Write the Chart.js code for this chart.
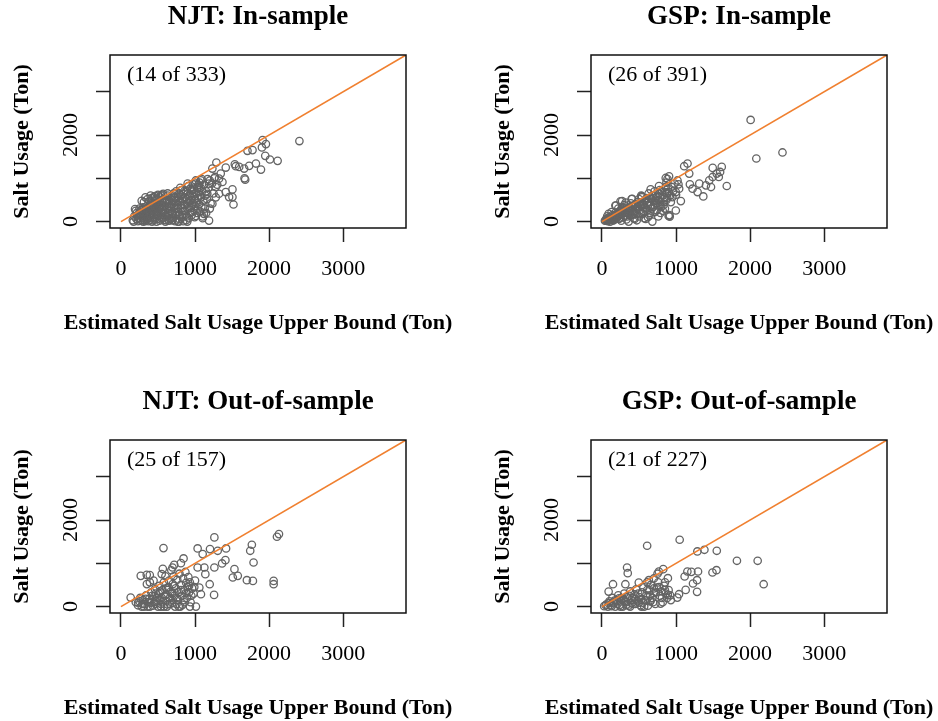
<!DOCTYPE html>
<html>
<head>
<meta charset="utf-8">
<title>Salt usage vs estimated upper bound</title>
<script src="https://cdn.jsdelivr.net/npm/chart.js@4/dist/chart.umd.min.js"></script>
<style>
  html, body { margin: 0; padding: 0; background: #fff; overflow: hidden; }
  body { width: 938px; height: 721px; position: relative; }
  .panel { position: absolute; width: 481px; height: 385px; }
</style>
</head>
<body>
<div class="panel" style="left:0px;top:0px"><canvas id="c0" width="481" height="385"></canvas></div>
<div class="panel" style="left:481px;top:0px"><canvas id="c1" width="481" height="385"></canvas></div>
<div class="panel" style="left:0px;top:385px"><canvas id="c2" width="481" height="385"></canvas></div>
<div class="panel" style="left:481px;top:385px"><canvas id="c3" width="481" height="385"></canvas></div>
<script>
// axis settings (same for all four panels)
const axisMin = -148;
const axisMax = 3848;
const xTicks = [0, 1000, 2000, 3000];
const yTicks = [0, 1000, 2000, 3000];
const yTicksLabelled = [0, 2000];
const diagonal = [0, 3848];

// panel titles and notes
const titles = ["NJT: In-sample", "GSP: In-sample", "NJT: Out-of-sample", "GSP: Out-of-sample"];
const notes = ["(14 of 333)", "(26 of 391)", "(25 of 157)", "(21 of 227)"];
const notePos = [750, 3390];
const xTitle = "Estimated Salt Usage Upper Bound (Ton)";
const yTitle = "Salt Usage (Ton)";

// [estimated upper bound, salt usage]
const njtIn = [
  [160,30],[180,120],[200,250],[210,60],[230,10],[240,180],[250,300],[190,290],[220,140],[170,0],[245,80],
  [260,20],[270,150],[280,260],[290,90],[300,330],[310,40],[320,200],[330,280],[340,120],[300,0],[350,60],[280,480],[330,560],[345,220],
  [360,300],[370,10],[380,170],[390,380],[400,90],[410,250],[420,420],[430,30],[440,330],[450,160],[400,600],[440,560],[380,470],[420,0],[455,280],
  [460,70],[470,400],[480,220],[490,500],[500,130],[510,320],[520,20],[530,450],[540,260],[550,80],[500,620],[480,0],[545,380],[520,560],
  [560,350],[570,160],[580,520],[590,40],[600,280],[610,430],[620,100],[630,600],[640,200],[650,360],[600,0],[560,620],[620,500],[650,20],
  [660,250],[670,540],[680,80],[690,400],[700,180],[710,650],[720,300],[730,10],[740,480],[750,140],[700,600],[690,30],[745,700],[720,560],
  [760,380],[770,580],[780,220],[790,60],[800,470],[810,720],[820,300],[830,150],[840,640],[850,400],[800,780],[770,0],[840,10],[820,520],
  [860,250],[870,560],[880,700],[890,120],[900,420],[910,820],[920,330],[930,600],[940,200],[950,500],[900,880],[880,30],[950,720],
  [960,380],[970,860],[980,640],[990,250],[1000,520],[1010,950],[1020,420],[1030,780],[1040,300],[1050,680],[1060,900],[1080,560],[1090,980],[1100,120],[1070,230],[1010,130],
  [215,200],[235,90],[255,150],[265,260],[275,40],[295,210],[305,120],[315,300],[325,10],[335,170],[355,250],[365,80],[375,340],[385,30],
  [395,200],[405,140],[415,360],[425,280],[435,100],[445,220],[465,310],[475,170],[485,60],[495,380],[505,250],[515,150],[525,330],[535,50],
  [545,200],[555,460],[565,280],[575,90],[585,350],[595,200],[605,480],[615,30],[625,320],[635,420],[645,140],[655,480],[665,60],[675,330],
  [685,200],[695,500],[705,90],[715,380],[725,200],[735,560],[745,300],[755,50],[765,480],[775,300],[785,650],[795,150],[805,380],[815,600],
  [825,100],[835,480],[845,240],[855,700],[865,380],[875,160],[885,520],[895,300],[905,650],[915,80],[925,480],[935,760],[945,350],[955,150],
  [965,580],[975,420],[985,760],[995,100],[1005,350],[1015,650],[1025,200],[1035,540],[1045,850],[1055,400],[1065,600],[1075,780],[1085,350],
  [1095,700],[1110,480],[1120,850],[1130,300],[1140,600],[1150,700],[1120,180],
  [310,450],[360,520],[410,540],[460,590],[510,600],[570,640],[630,650],[470,520],[540,600],
  [1160,520],[1180,780],[1200,950],[1210,420],[1230,880],[1250,650],[1260,1000],[1280,560],[1300,850],[1200,300],[1150,200],[1170,980],
  [2409,1860],[1912,1883],[1957,1790],[1903,1713],[1708,1635],[1776,1651],[2115,1403],[2011,1434],[1948,1519],[1890,1201],
  [1822,1341],[1731,1287],[1663,1225],[1550,1279],[1596,1263],[1537,1325],[1668,1000],[1677,969],[1505,744],[1505,566],
  [1519,395],[1288,1364],[1234,1225],[1415,1248],[1347,1108],[1324,992],[1270,1031],[1370,915],[1189,876],[1415,682],
  [1324,643],[1460,566],[1234,411],[1189,23],[1103,78],[895,0],[782,0],[1279,798],[1166,643],[1076,953],[1053,798],[1008,876],[963,721]
];

const gspIn = [
  [40,20],[60,60],[80,10],[100,100],[120,40],[140,150],[70,120],[110,0],[150,80],[90,180],[130,220],
  [160,30],[180,200],[200,90],[220,300],[240,150],[260,20],[280,250],[300,380],[170,130],[230,60],[270,330],[290,100],[190,370],[250,470],
  [310,200],[330,50],[350,300],[370,150],[390,420],[410,250],[430,80],[450,350],[320,440],[360,0],[400,520],[440,180],[380,240],
  [460,280],[480,450],[500,120],[520,380],[540,560],[560,220],[580,480],[600,300],[470,30],[530,600],[590,60],[550,400],[500,520],
  [610,430],[630,650],[650,200],[670,520],[690,340],[710,700],[730,420],[750,600],[620,100],[680,0],[740,260],[700,480],[660,380],
  [760,500],[780,730],[800,340],[820,620],[840,450],[860,800],[880,550],[900,130],[790,200],[850,300],[900,680],[870,900],[910,150],
  [50,40],[70,30],[90,70],[110,90],[130,60],[150,130],[170,80],[190,150],[210,120],[230,200],[250,90],[270,180],[290,250],[310,140],
  [330,270],[350,190],[370,320],[390,140],[410,340],[430,230],[450,400],[470,180],[490,330],[510,260],[530,440],[550,180],[570,380],
  [590,500],[610,250],[630,450],[650,550],[670,300],[690,600],[710,380],[730,560],[750,420],[770,640],[790,460],[810,700],[830,380],
  [850,680],[870,500],[890,760],[920,600],[940,800],[960,700],[980,880],[1000,620],[1020,950],[930,450],[820,250],[760,120],[710,220],
  [640,140],[570,80],[520,200],[470,320],[420,160],[360,250],[300,210],[240,240],[200,170],[150,30],[120,110],[100,40],[80,80],[60,20],
  [180,60],[260,280],[340,120],[440,60],[560,320],[620,380],[720,480],[780,380],[840,560],[880,650],[600,540],[500,420],[400,360],[330,320],[260,200],
  [181,372],[272,473],[408,527],[535,581],[657,744],[770,822],[861,1008],
  [2007,2348],[2084,1457],[2437,1597],[1685,822],[1617,1263],[1595,1147],[1495,1240],[1577,1031],[1549,1108],[1495,1031],
  [1449,953],[1472,798],[1404,837],[1368,581],[1314,876],[1223,760],[1291,682],[1187,860],[1155,1341],[1110,1279],
  [1178,1108],[1065,473],[997,256],[915,116],[906,1046],[884,984],[1033,860],[997,682],[951,566],[1042,760]
];

const njtOut = [
  [200,100],[230,30],[260,200],[280,0],[300,150],[320,60],[340,260],[360,0],[380,180],[400,90],[410,330],[430,20],
  [450,240],[460,400],[480,120],[500,0],[510,300],[520,480],[540,60],[550,200],[560,380],[580,560],[600,130],[610,280],
  [620,0],[640,450],[650,600],[660,200],[670,340],[690,80],[700,520],[710,700],[720,250],[730,0],[740,420],[760,620],
  [770,150],[780,330],[790,760],[800,0],[810,500],[820,250],[840,650],[850,380],[860,100],[870,800],[880,550],[890,200],
  [900,450],[910,680],[920,330],[930,560],[940,100],[960,420],[980,300],[1000,600],[350,520],[390,560],[440,600],[600,700],
  [680,840],[550,750],[470,300],[530,150],[630,50],[750,60],[830,40],[580,0],
  [250,120],[290,60],[330,180],[370,100],[420,250],[470,60],[490,200],[530,350],[570,120],[590,250],[630,380],[660,60],
  [690,300],[720,480],[750,200],[780,0],[810,380],[850,150],[880,320],[920,480],[950,250],[990,450],[700,150],[610,420],
  [540,0],[450,100],[390,0],[310,0],
  [2133,1675],[2106,1613],[2061,594],[2061,517],[1767,1428],[1745,1289],[1790,1019],[1781,594],[1700,610],[1577,710],
  [1510,672],[1532,865],[1419,1343],[1410,1073],[1365,996],[1306,1289],[1261,1598],[1202,1328],[1261,903],[1198,517],
  [1257,270],[1103,1212],[1035,1343],[1126,903],[1139,749],[1058,440],[1080,286],[1035,903],[1012,0],[931,0],
  [845,1112],[809,1003],[719,965],[696,903],[574,1351],[565,872],[389,726],[267,710],[348,733],[131,208],[231,93]
];

const gspOut = [
  [30,10],[60,50],[80,0],[100,120],[120,30],[140,200],[160,80],[180,0],[200,150],[220,260],[240,40],[260,190],[280,0],
  [300,300],[320,100],[340,220],[360,20],[380,350],[400,150],[420,60],[440,280],[460,400],[480,120],[500,220],[520,30],
  [540,330],[560,450],[580,150],[600,260],[620,20],[640,380],[660,500],[680,200],[700,310],[720,60],[740,440],[760,560],
  [780,250],[800,350],[820,100],[840,480],[860,300],[880,200],[900,380],[920,260],[700,650],[750,760],[850,560],[610,560],
  [450,180],[550,90],[650,120],[380,0],[250,120],
  [50,30],[90,80],[130,10],[170,140],[210,60],[250,0],[290,180],[330,40],[370,250],[410,200],[450,60],[490,300],[530,160],
  [570,0],[610,380],[650,260],[690,100],[730,330],[770,450],[810,200],[850,380],[890,270],[930,150],[700,420],[600,140],
  [500,90],[400,80],[310,130],[230,190],[150,100],
  [1049,1544],[610,1405],[1288,1274],[1383,1312],[1550,1289],[1822,1058],[2102,1058],[2183,517],[1546,841],[1492,787],
  [1297,811],[1207,803],[1153,811],[1116,695],[1229,533],[1284,610],[1284,340],[1130,386],[1040,286],[1017,208],
  [890,656],[827,865],[768,811],[339,903],[348,772],[633,610],[497,556],[316,517],[149,517],[90,347],[791,69],[533,0],[655,131]
];

const panelData = [njtIn, gspIn, njtOut, gspOut];

Chart.defaults.font.family = "'Liberation Serif', 'Times New Roman', serif";
Chart.defaults.font.size = 22;
Chart.defaults.color = "#000";

// full box round the plot region, like R's box()
const boxPlugin = {
  id: "box",
  afterDraw(chart) {
    const a = chart.chartArea;
    const ctx = chart.ctx;
    ctx.save();
    ctx.strokeStyle = "#111";
    ctx.lineWidth = 1.5;
    ctx.strokeRect(a.left, a.top, a.right - a.left, a.bottom - a.top);
    ctx.restore();
  }
};

// the "(n of m)" note and the x axis title (the built-in one gets squeezed to the plot width)
const textPlugin = {
  id: "texts",
  afterDatasetsDraw(chart, args, opts) {
    const ctx = chart.ctx;
    const a = chart.chartArea;
    ctx.save();
    ctx.fillStyle = "#000";
    ctx.textAlign = "center";
    ctx.textBaseline = "middle";
    ctx.font = "22px 'Liberation Serif', serif";
    ctx.fillText(opts.note, chart.scales.x.getPixelForValue(notePos[0]), chart.scales.y.getPixelForValue(notePos[1]));
    ctx.font = "bold 22px 'Liberation Serif', serif";
    ctx.fillText(xTitle, (a.left + a.right) / 2, a.bottom + 95);
    ctx.restore();
  }
};

function makeScale(ticksList, labelFn, isY) {
  const s = {
    type: "linear",
    min: axisMin,
    max: axisMax,
    afterBuildTicks: (axis) => { axis.ticks = ticksList.map(v => ({ value: v })); },
    ticks: { autoSkip: false, color: "#000", callback: labelFn },
    grid: { drawOnChartArea: false, drawTicks: true, tickLength: 14, tickColor: "#222", tickWidth: 1.5 },
    border: { display: false }
  };
  if (isY) {
    s.ticks.minRotation = 90;
    s.ticks.maxRotation = 90;
    s.ticks.crossAlign = "center";
    s.ticks.padding = 3;
    s.title = { display: true, text: yTitle, color: "#000", font: { size: 22, weight: "bold" }, padding: { top: 9, bottom: 0 } };
    s.afterFit = (axis) => { axis.width = 110; };
  } else {
    s.ticks.maxRotation = 0;
    s.ticks.padding = 14;
    s.title = { display: false };
    s.afterFit = (axis) => { axis.height = 107; };
  }
  return s;
}

for (let i = 0; i < 4; i++) {
  const pts = panelData[i].map(p => ({ x: p[0], y: p[1] }));
  new Chart(document.getElementById("c" + i), {
    type: "scatter",
    data: {
      datasets: [
        {
          data: diagonal.map(v => ({ x: v, y: v })),
          showLine: true,
          borderColor: "rgb(240,128,48)",
          borderWidth: 1.6,
          pointRadius: 0,
          order: 0
        },
        {
          data: pts,
          pointStyle: "circle",
          pointRadius: 3.7,
          pointBorderWidth: 1.3,
          pointBorderColor: "rgb(100,100,100)",
          pointBackgroundColor: "rgba(0,0,0,0)",
          order: 1
        }
      ]
    },
    options: {
      responsive: false,
      animation: false,
      layout: { padding: { left: 0, right: 75, top: 0, bottom: 50 } },
      plugins: {
        legend: { display: false },
        tooltip: { enabled: false },
        title: {
          display: true,
          fullSize: false,
          text: titles[i],
          color: "#000",
          font: { size: 27, weight: "bold" },
          padding: { top: 0.8, bottom: 21.8 }
        },
        texts: { note: notes[i] }
      },
      scales: {
        x: makeScale(xTicks, v => String(v), false),
        y: makeScale(yTicks, v => (yTicksLabelled.includes(v) ? String(v) : ""), true)
      }
    },
    plugins: [boxPlugin, textPlugin]
  });
}
</script>
</body>
</html>
